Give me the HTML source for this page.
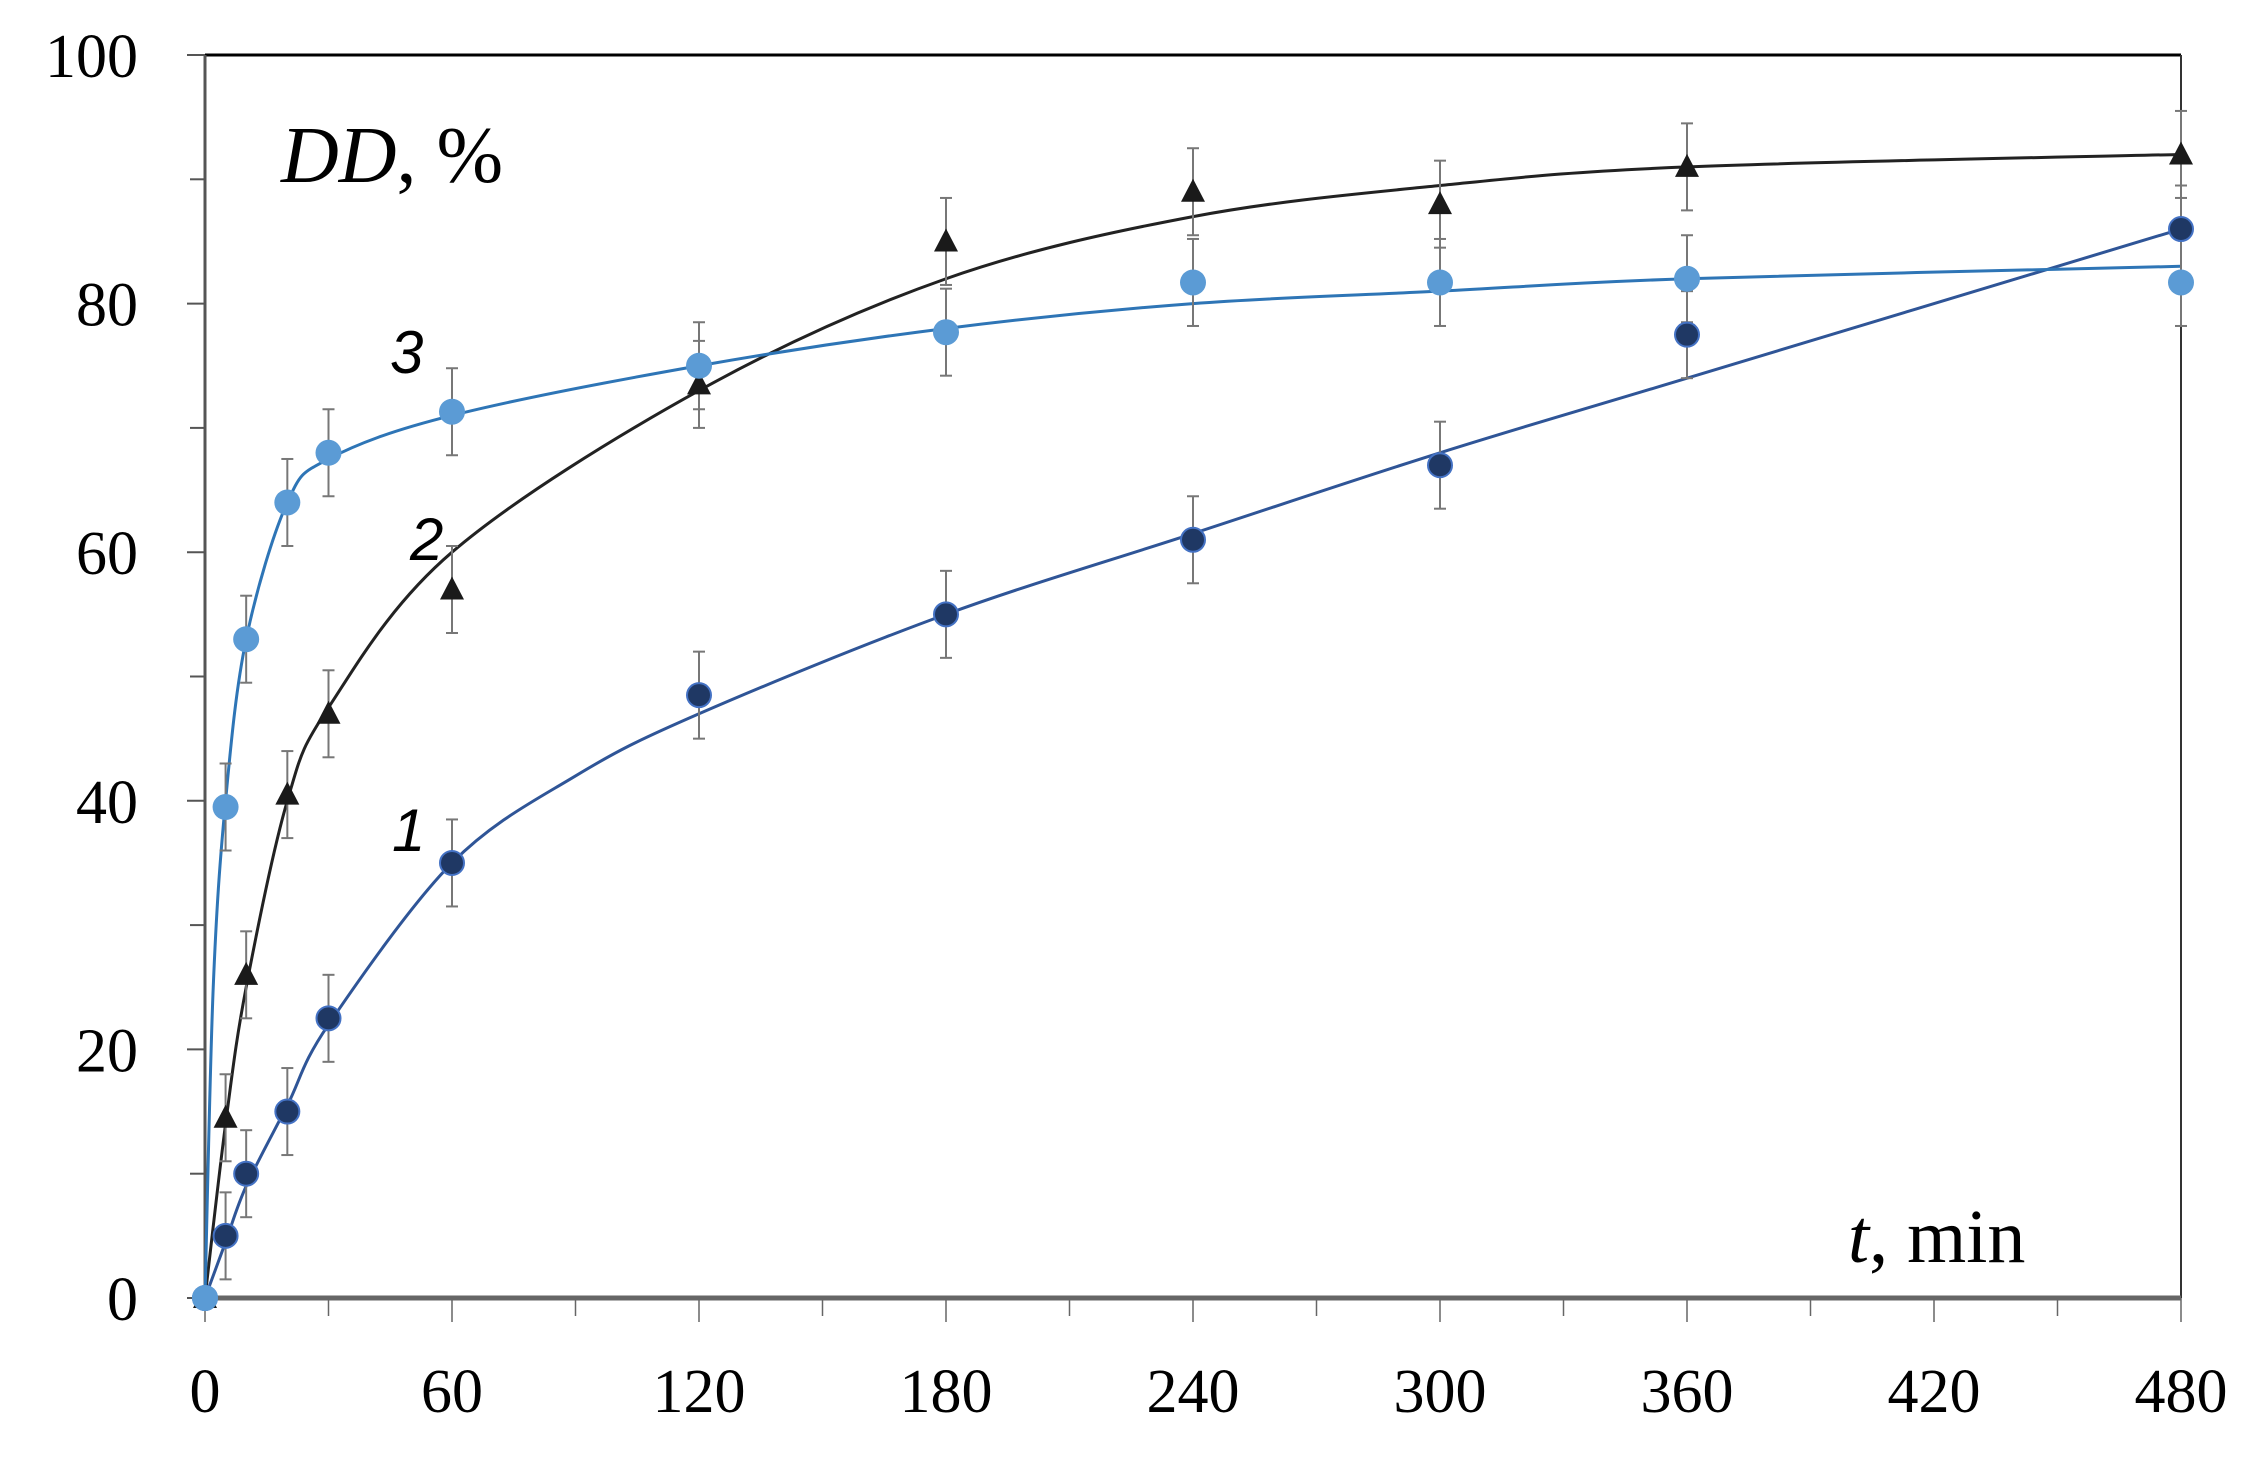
<!DOCTYPE html>
<html><head><meta charset="utf-8"><style>
html,body{margin:0;padding:0;background:#fff;}
svg{display:block;}
</style></head><body>
<svg id="s" width="2261" height="1480" xmlns="http://www.w3.org/2000/svg">
<rect width="2261" height="1480" fill="#fff"/>
<g id="g"></g>
<text x="281" y="182" font-family="Liberation Serif, serif" font-size="80"><tspan font-style="italic">DD</tspan>, %</text>
<text x="1848" y="1262" font-family="Liberation Serif, serif" font-size="76"><tspan font-style="italic">t</tspan>, min</text>
<text x="390" y="373" font-family="Liberation Sans, sans-serif" font-style="italic" font-size="60">3</text>
<text x="410" y="560" font-family="Liberation Sans, sans-serif" font-style="italic" font-size="60">2</text>
<text x="392" y="851" font-family="Liberation Sans, sans-serif" font-style="italic" font-size="60">1</text>
</svg>
<script>
const X0=205,X1=2181,Y0=1298,Y1=55;
const X=t=>X0+(X1-X0)*t/480, Y=v=>Y0+(Y1-Y0)*v/100;
let h='';
h+=`<line x1="${X0}" y1="${Y1}" x2="${X1}" y2="${Y1}" stroke="#000" stroke-width="3"/>`;
h+=`<line x1="${X1}" y1="${Y1}" x2="${X1}" y2="${Y0}" stroke="#333" stroke-width="2"/>`;
h+=`<line x1="${X0}" y1="${Y1}" x2="${X0}" y2="${Y0}" stroke="#555" stroke-width="3"/>`;
for(let v=0;v<=100;v+=10){const y=Y(v);h+=`<line x1="${v%20?X0-15:X0-18}" y1="${y}" x2="${X0}" y2="${y}" stroke="#555" stroke-width="2"/>`;
 if(v%20==0)h+=`<text x="138" y="${y+22}" text-anchor="end" font-family="Liberation Serif, serif" font-size="62">${v}</text>`;}
for(let t=0;t<=480;t+=30){const x=X(t);h+=`<line x1="${x}" y1="${Y0}" x2="${x}" y2="${t%60?1316:1322}" stroke="#666" stroke-width="1.5"/>`;
 if(t%60==0)h+=`<text x="${x}" y="1412" text-anchor="middle" font-family="Liberation Serif, serif" font-size="62">${t}</text>`;}
h+=`<line x1="${X0}" y1="${Y0}" x2="${X1}" y2="${Y0}" stroke="#666" stroke-width="5"/>`;
function path(pts,col){let p=pts.map(a=>[X(a[0]),Y(a[1])]);let d=`M${p[0][0]},${p[0][1]}`;
 for(let i=0;i<p.length-1;i++){const p0=p[Math.max(0,i-1)],p1=p[i],p2=p[i+1],p3=p[Math.min(p.length-1,i+2)];
 d+=` C${p1[0]+(p2[0]-p0[0])/6},${p1[1]+(p2[1]-p0[1])/6} ${p2[0]-(p3[0]-p1[0])/6},${p2[1]-(p3[1]-p1[1])/6} ${p2[0]},${p2[1]}`;}
 return `<path d="${d}" fill="none" stroke="${col}" stroke-width="3"/>`;}
function err(t,v){const x=X(t),a=Y(v+3.5),b=Y(v-3.5);return `<g stroke="#777" stroke-width="2"><line x1="${x}" y1="${a}" x2="${x}" y2="${b}"/><line x1="${x-6}" y1="${a}" x2="${x+6}" y2="${a}"/><line x1="${x-6}" y1="${b}" x2="${x+6}" y2="${b}"/></g>`;}
const s1=[[0,0],[5,5],[10,10],[20,15],[30,22.5],[60,35],[120,48.5],[180,55],[240,61],[300,67],[360,77.5],[480,86]];
const c1=[[0,0],[5,4.5],[10,9],[20,15.5],[30,22],[60,35],[90,42],[120,47],[180,55],[240,61.5],[300,68],[360,74],[480,86]];
const s2=[[0,0],[5,14.5],[10,26],[20,40.5],[30,47],[60,57],[120,73.5],[180,85],[240,89],[300,88],[360,91],[480,92]];
const c2=[[0,0],[5,14],[10,25],[20,40],[30,47.5],[60,60],[120,73],[180,82],[240,87],[300,89.5],[360,91],[480,92]];
const s3=[[0,0],[5,39.5],[10,53],[20,64],[30,68],[60,71.3],[120,75],[180,77.7],[240,81.7],[300,81.7],[360,82],[480,81.7]];
const c3=[[0,0],[2,25],[5,40],[10,53],[20,64],[30,67.5],[60,71],[120,75],[180,78],[240,80],[300,81],[360,82],[480,83]];
h+=path(c1,'#2f5597')+path(c2,'#222')+path(c3,'#2e75b6');
[...s1,...s2,...s3].forEach(p=>{if(p[0]>0)h+=err(p[0],p[1]);});
s1.forEach(p=>h+=`<circle cx="${X(p[0])}" cy="${Y(p[1])}" r="12" fill="#1f3864" stroke="#4472c4" stroke-width="2"/>`);
s2.forEach(p=>{const x=X(p[0]),y=Y(p[1]);h+=`<polygon points="${x},${y-13} ${x-12},${y+10} ${x+12},${y+10}" fill="#1a1a1a"/>`;});
s3.forEach(p=>h+=`<circle cx="${X(p[0])}" cy="${Y(p[1])}" r="13" fill="#5b9bd5"/>`);
document.getElementById('g').innerHTML=h;
</script>
</body></html>
